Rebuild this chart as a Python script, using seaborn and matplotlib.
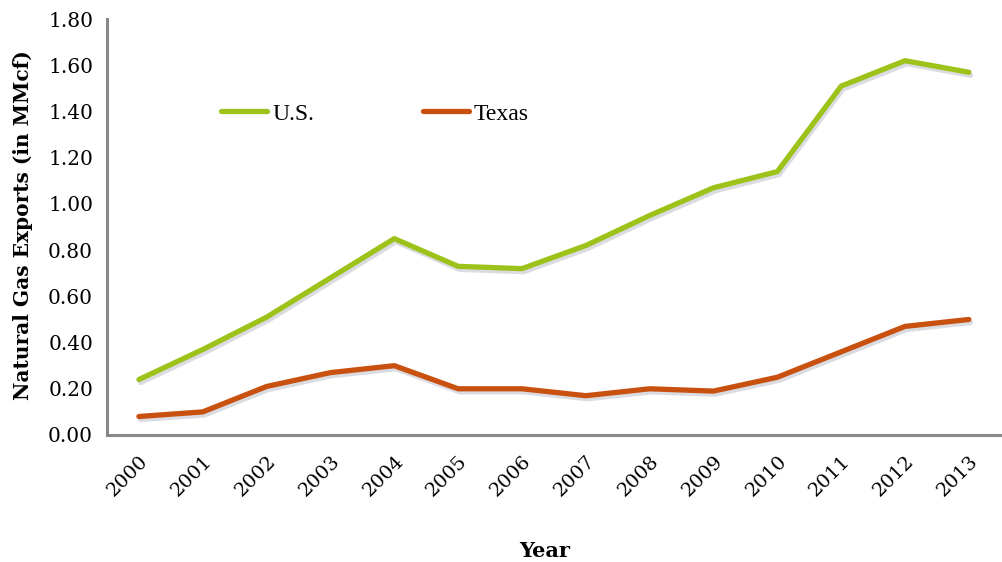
import matplotlib
matplotlib.use("Agg")
import matplotlib.pyplot as plt
import matplotlib.patheffects as pe
import seaborn as sns
import pandas as pd
import numpy as np

years = list(range(2000, 2014))
us_exports = [0.24, 0.37, 0.51, 0.68, 0.85, 0.73, 0.72, 0.82, 0.95, 1.07, 1.14, 1.51, 1.62, 1.57]
texas_exports = [0.08, 0.10, 0.21, 0.27, 0.30, 0.20, 0.20, 0.17, 0.20, 0.19, 0.25, 0.36, 0.47, 0.50]
series_names = ["U.S.", "Texas"]
series_colors = ["#9dc31b", "#c9510f"]
y_ticks = [0.0, 0.2, 0.4, 0.6, 0.8, 1.0, 1.2, 1.4, 1.6, 1.8]

df = pd.DataFrame({
    "Year": years * 2,
    "Exports": us_exports + texas_exports,
    "Region": [series_names[0]] * len(years) + [series_names[1]] * len(years),
})

sns.set_theme(style="white")
plt.rcParams["font.family"] = ["DejaVu Serif"]
plt.rcParams["text.color"] = "black"
plt.rcParams["axes.labelcolor"] = "black"
plt.rcParams["xtick.color"] = "black"
plt.rcParams["ytick.color"] = "black"

fig = plt.figure(figsize=(10.02, 5.62), dpi=100)
ax = fig.add_axes([0.1068, 0.226, 0.892, 0.740])

shadow = [pe.SimpleLineShadow(offset=(1.2, -2.2), shadow_color="#8a8aa0", alpha=0.3), pe.Normal()]
sns.lineplot(data=df, x="Year", y="Exports", hue="Region", hue_order=series_names,
             palette=series_colors, linewidth=3.8, ax=ax, legend=False)
for line in ax.get_lines():
    line.set_path_effects(shadow)
    line.set_solid_capstyle("round")
    line.set_solid_joinstyle("round")

ax.set_xlim(years[0] - 0.5, years[-1] + 0.47)
ax.set_ylim(0, 1.8)
ax.set_yticks(y_ticks)
ax.set_yticklabels([f"{v:.2f}" for v in y_ticks], fontsize=14.5)
ax.set_xticks(years)
ax.set_xticklabels([str(y) for y in years], rotation=45, ha="right",
                   rotation_mode="anchor", fontsize=14)
ax.set_xticks(np.arange(years[0] - 0.5, years[-1] + 1, 1.0), minor=True)
ax.tick_params(axis="x", which="major", length=0, pad=12)
ax.tick_params(axis="x", which="minor", length=5, width=2, color="#888888", direction="out")
ax.tick_params(axis="y", which="major", length=5, width=2, color="#888888", direction="out", pad=5)

for side in ["top", "right"]:
    ax.spines[side].set_visible(False)
for side in ["left", "bottom"]:
    ax.spines[side].set_color("#888888")
    ax.spines[side].set_linewidth(2.2)

ax.set_ylabel("Natural Gas Exports (in MMcf)", fontsize=14.5, fontweight="bold")
ax.set_xlabel("Year", fontsize=15, fontweight="bold")
ax.yaxis.set_label_coords(-0.083, 0.505)
ax.xaxis.set_label_coords(0.49, -0.255)

handles = [plt.Line2D([], [], color=c, linewidth=3.8) for c in series_colors]
leg = ax.legend(handles, series_names, loc="center left", bbox_to_anchor=(0.128, 0.772),
                ncol=2, frameon=False, handlelength=1.95, handletextpad=0.2,
                columnspacing=4.6, borderpad=0, borderaxespad=0,
                prop={"family": "Liberation Serif", "size": 17})

fig.savefig("out.png", dpi=100, facecolor="white")
